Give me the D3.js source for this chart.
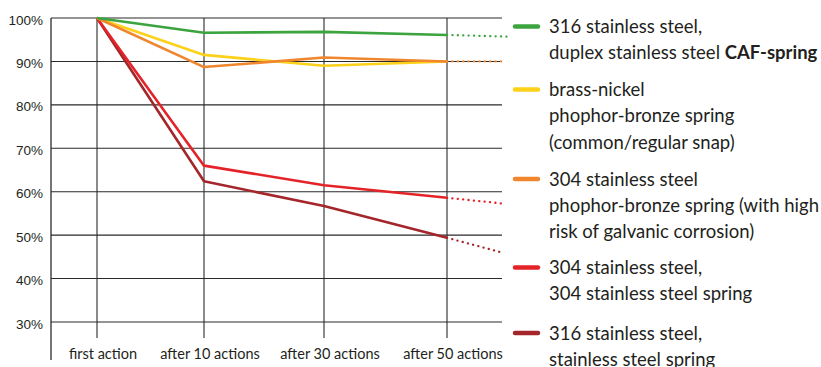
<!DOCTYPE html>
<html>
<head>
<meta charset="utf-8">
<script src="https://cdn.jsdelivr.net/npm/d3@7"></script>
<style>
  body { margin: 0; background: #fff; }
  svg { display: block; }
</style>
</head>
<body>
<div id="placeholder"></div>
<script>
// categories on the x axis
var categories = ["first action", "after 10 actions", "after 30 actions", "after 50 actions"];
var yTicks = [30, 40, 50, 60, 70, 80, 90, 100];

// % of spring force left, one array per material
var greenValues = [100, 96.6, 96.8, 96.1];
var yellowValues = [100, 91.5, 89.0, 90.0];
var orangeValues = [100, 88.7, 90.9, 90.0];
var redValues = [100, 66.0, 61.5, 58.6];
var darkRedValues = [100, 62.4, 56.7, 49.4];

// dotted trend after the last measure (null = no trend line)
var trendValues = [95.7, null, 90.0, 57.3, 46.0];

var seriesColors = ["#3ba43f", "#fdd11a", "#f0862e", "#e42329", "#a4262a"];
var legendLines = [
  ["316 stainless steel,", "duplex stainless steel |CAF-spring"],
  ["brass-nickel", "phophor-bronze spring", "(common/regular snap)"],
  ["304 stainless steel", "phophor-bronze spring (with high", "risk of galvanic corrosion)"],
  ["304 stainless steel,", "304 stainless steel spring"],
  ["316 stainless steel,", "stainless steel spring"]
];

var allValues = [greenValues, yellowValues, orangeValues, redValues, darkRedValues];

var width = 821;
var height = 367;
var plotLeft = 51, plotRight = 502, plotTop = 18, plotBottom = 322;

var svg = d3.select("#placeholder")
  .append("svg")
  .attr("width", width)
  .attr("height", height);

var y = d3.scaleLinear().domain([30, 100]).range([plotBottom, plotTop]);

// the category lines are not evenly spaced in the original
var x = d3.scaleOrdinal()
  .domain(categories)
  .range([97, 204, 324, 447]);

// horizontal grid
svg.selectAll(".hgrid")
  .data(yTicks)
  .enter()
  .append("line")
  .attr("x1", plotLeft)
  .attr("x2", plotRight)
  .attr("y1", function(d) { return y(d); })
  .attr("y2", function(d) { return y(d); })
  .attr("stroke", "#2a2a2a")
  .attr("stroke-width", 1.1);

// vertical category lines
svg.selectAll(".vgrid")
  .data(categories)
  .enter()
  .append("line")
  .attr("x1", function(d) { return x(d); })
  .attr("x2", function(d) { return x(d); })
  .attr("y1", plotTop)
  .attr("y2", 338)
  .attr("stroke", "#2a2a2a")
  .attr("stroke-width", 1.1);

// y axis line
svg.append("line")
  .attr("x1", plotLeft).attr("x2", plotLeft)
  .attr("y1", plotTop).attr("y2", 360)
  .attr("stroke", "#2a2a2a")
  .attr("stroke-width", 1.3);

// y tick labels
svg.selectAll(".ylab")
  .data(yTicks)
  .enter()
  .append("text")
  .attr("x", 43)
  .attr("y", function(d) { return y(d) + 6.5; })
  .attr("text-anchor", "end")
  .style("font-family", "'Liberation Sans', Arial, sans-serif")
  .style("font-size", "13.5px")
  .style("fill", "#231f20")
  .text(function(d) { return d + "%"; });

// x labels
svg.selectAll(".xlab")
  .data(categories)
  .enter()
  .append("text")
  .attr("x", function(d) { return x(d) + 6; })
  .attr("y", 359)
  .attr("text-anchor", "middle")
  .style("font-family", "Lato, sans-serif")
  .style("font-size", "14.5px")
  .style("fill", "#231f20")
  .text(function(d) { return d; });

var line = d3.line()
  .x(function(d, i) { return x(categories[i]); })
  .y(function(d) { return y(d); });

// draw order: dark red first, green on top
var order = [4, 3, 1, 2, 0];

// dotted trends
order.forEach(function(s) {
  if (trendValues[s] === null) return;
  var vals = allValues[s];
  var last = vals[vals.length - 1];
  var xEnd = s === 0 ? plotRight + 6 : plotRight;
  svg.append("line")
    .attr("x1", x(categories[categories.length - 1]))
    .attr("y1", y(last))
    .attr("x2", xEnd)
    .attr("y2", y(trendValues[s]))
    .attr("stroke", seriesColors[s])
    .attr("stroke-width", 2.3)
    .attr("stroke-linecap", "round")
    .attr("stroke-dasharray", "0.1,5.3");
});

order.forEach(function(s) {
  svg.append("path")
    .datum(allValues[s])
    .attr("d", line)
    .attr("fill", "none")
    .attr("stroke", seriesColors[s])
    .attr("stroke-width", 2.6)
    .attr("stroke-linejoin", "round");
});

// legend
var legendTop = [26.5, 89.5, 179, 267.5, 333];
var lineGap = 26.3;

legendLines.forEach(function(lines, s) {
  var g = svg.append("g");
  g.append("line")
    .attr("x1", 515).attr("x2", 538)
    .attr("y1", legendTop[s]).attr("y2", legendTop[s])
    .attr("stroke", seriesColors[s])
    .attr("stroke-width", 4.5)
    .attr("stroke-linecap", "round");

  lines.forEach(function(txt, i) {
    var t = g.append("text")
      .attr("x", 549)
      .attr("y", legendTop[s] + i * lineGap + 6.5)
      .style("font-family", "Lato, sans-serif")
      .style("font-size", "18.5px")
      .style("fill", "#231f20");
    var parts = txt.split("|");
    t.append("tspan").text(parts[0]);
    if (parts.length > 1) {
      t.append("tspan").style("font-weight", "bold").text(parts[1]);
    }
  });
});
</script>
</body>
</html>
